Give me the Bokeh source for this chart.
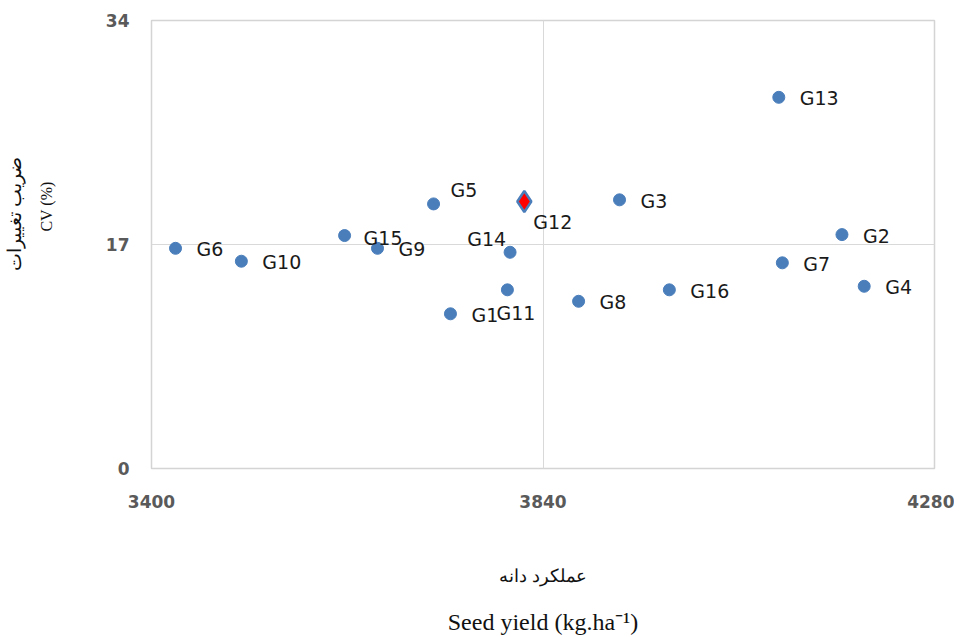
from bokeh.plotting import figure
from bokeh.models import ColumnDataSource, FixedTicker, LinearAxis, CDSView, IndexFilter
from bokeh.core.properties import value
from bokeh.embed import file_html
from bokeh.resources import INLINE

# ---- data ----
genotypes = ["G1", "G2", "G3", "G4", "G5", "G6", "G7", "G8",
             "G9", "G10", "G11", "G12", "G13", "G14", "G15", "G16"]
seed_yield = [3736, 4176, 3926, 4201, 3717, 3427, 4109, 3880,
              3654, 3501, 3800, 3819, 4105, 3803, 3617, 3982]
cv_percent = [11.74, 17.75, 20.39, 13.83, 20.08, 16.71, 15.61, 12.69,
              16.71, 15.73, 13.56, 20.26, 28.17, 16.41, 17.68, 13.56]
highlight = "G12"
x_ticks = [3400, 3840, 4280]
y_ticks = [0, 17, 34]
x_title_fa = "عملکرد دانه"
x_title_en = "Seed yield (kg.ha⁻¹)"
y_title_fa = "ضریب تغییرات"
y_title_en = "CV (%)"

# ---- label placement (style) ----
label_dx = {g: 21 for g in genotypes}
label_dy = {g: 1 for g in genotypes}
label_align = {g: "left" for g in genotypes}
label_dx.update({"G5": 17, "G14": -4, "G12": 9, "G11": -11, "G15": 19})
label_dy.update({"G5": -13.5, "G14": -13, "G12": 20, "G11": 23, "G15": 2.5})
label_align.update({"G14": "right"})

src = ColumnDataSource(dict(
    x=seed_yield, y=cv_percent, name=genotypes,
    dx=[label_dx[g] for g in genotypes],
    dy=[label_dy[g] for g in genotypes],
    align=[label_align[g] for g in genotypes],
))
hi_idx = [i for i, g in enumerate(genotypes) if g == highlight]

p = figure(width=954, height=637, output_backend="svg", toolbar_location=None,
           x_range=(x_ticks[0], x_ticks[-1]), y_range=(y_ticks[0], y_ticks[-1]),
           min_border_left=151, min_border_right=20, min_border_top=20,
           min_border_bottom=169)
p.background_fill_color = "white"
p.border_fill_color = "white"
p.outline_line_color = "#d4d4d4"
p.outline_line_width = 1.5

for ax in (p.xaxis[0], p.yaxis[0]):
    ax.axis_line_color = None
    ax.major_tick_line_color = None
    ax.minor_tick_line_color = None
    ax.major_label_text_font = "DejaVu Sans"
    ax.major_label_text_font_style = "bold"
    ax.major_label_text_font_size = "17px"
    ax.major_label_text_color = "#5a5a5a"
    ax.major_tick_out = 0
    ax.major_tick_in = 0
    ax.axis_label_text_font = "Liberation Serif"
    ax.axis_label_text_font_style = "normal"
    ax.axis_label_text_color = "#111111"

p.xaxis.ticker = FixedTicker(ticks=x_ticks)
p.yaxis.ticker = FixedTicker(ticks=y_ticks)
p.xaxis.major_label_standoff = 26
p.yaxis.major_label_standoff = 22

NB = "\u00a0"
p.yaxis.axis_label = NB * 19 + y_title_en
p.yaxis.axis_label_text_font_size = "16px"
p.yaxis.axis_label_standoff = 48
p.xaxis.axis_label = x_title_fa
p.xaxis.axis_label_text_font_size = "18px"
p.xaxis.axis_label_standoff = 55


def title_axis(label, size, standoff):
    ax = LinearAxis(ticker=FixedTicker(ticks=[]), axis_label=label,
                    axis_line_color=None, major_tick_out=0, major_tick_in=0,
                    minor_tick_out=0, minor_tick_in=0, major_label_standoff=0,
                    axis_label_standoff=standoff,
                    axis_label_text_font="Liberation Serif",
                    axis_label_text_font_style="normal",
                    axis_label_text_font_size=size,
                    axis_label_text_color="#111111")
    return ax


p.add_layout(title_axis(NB * 13 + y_title_fa, "19px", 10), "left")
p.add_layout(title_axis(x_title_en, "24px", 20), "below")

p.xgrid.ticker = FixedTicker(ticks=x_ticks)
p.ygrid.ticker = FixedTicker(ticks=y_ticks)
p.xgrid.grid_line_color = "#d9d9d9"
p.ygrid.grid_line_color = "#d9d9d9"

# markers
p.scatter("x", "y", source=src, size=12, marker="circle",
          fill_color="#4a7ebb", line_color="#4a7ebb")
p.scatter("x", "y", source=src, view=CDSView(filter=IndexFilter(hi_idx)),
          size=21, marker="diamond", fill_color="red", line_color="#4a7ebb",
          line_width=2.5)

p.text("x", "y", text="name", source=src, x_offset="dx", y_offset="dy",
       text_align="align", text_baseline="middle",
       text_font=value("DejaVu Sans"), text_font_size="19px",
       text_color="#1a1a1a")

open("out.html", "w").write(file_html(p, INLINE))
